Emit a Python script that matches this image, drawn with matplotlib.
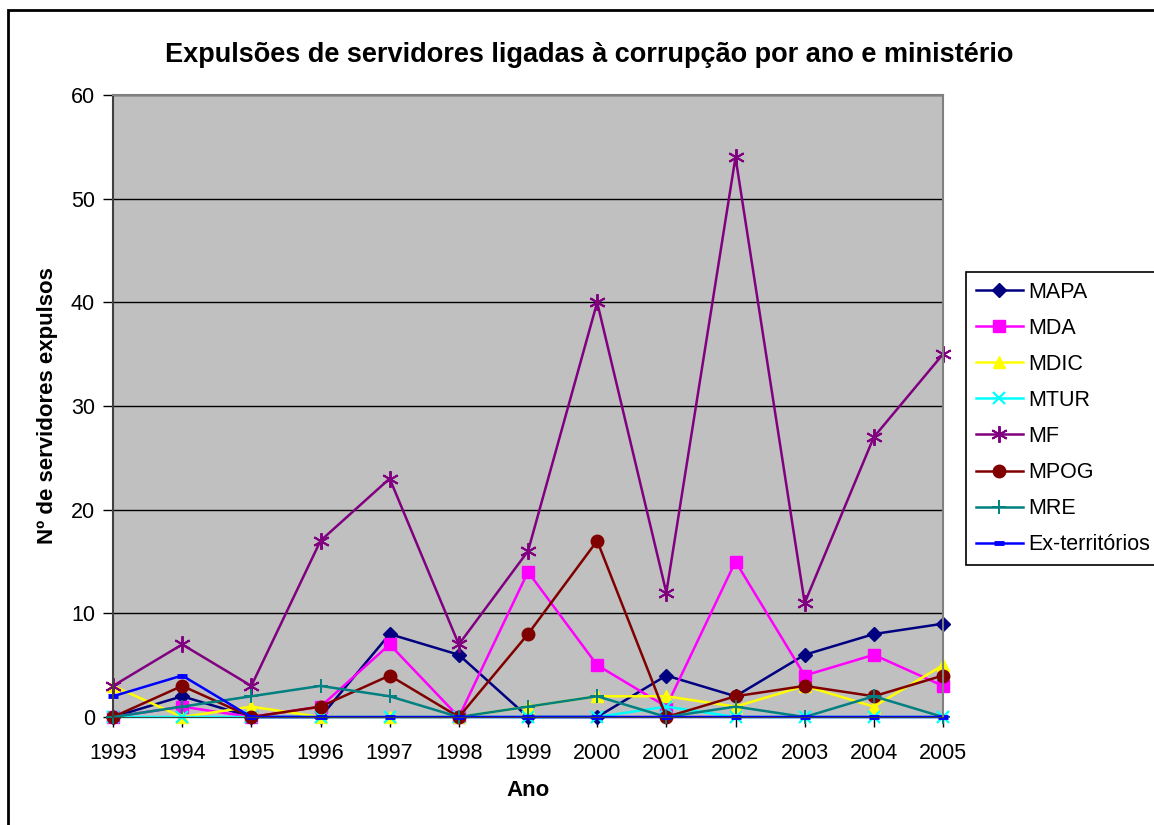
import matplotlib
matplotlib.use("Agg")
import matplotlib.pyplot as plt
from matplotlib.patches import Rectangle

plt.rcParams['font.family'] = ['Liberation Sans', 'DejaVu Sans']

years = list(range(1993, 2006))
MAPA = [0, 2, 0, 0, 8, 6, 0, 0, 4, 2, 6, 8, 9]
MDA = [0, 1, 0, 1, 7, 0, 14, 5, 1, 15, 4, 6, 3]
MDIC = [3, 0, 1, 0, 0, 0, 1, 2, 2, 1, 3, 1, 5]
MTUR = [0, 0, 0, 0, 0, 0, 0, 0, 1, 0, 0, 0, 0]
MF = [3, 7, 3, 17, 23, 7, 16, 40, 12, 54, 11, 27, 35]
MPOG = [0, 3, 0, 1, 4, 0, 8, 17, 0, 2, 3, 2, 4]
MRE = [0, 1, 2, 3, 2, 0, 1, 2, 0, 1, 0, 2, 0]
EXT = [2, 4, 0, 0, 0, 0, 0, 0, 0, 0, 0, 0, 0]

series = [
    ("MAPA", MAPA, "#000080", "D", 7, {}),
    ("MDA", MDA, "#FF00FF", "s", 8, {}),
    ("MDIC", MDIC, "#FFFF00", "^", 9, {}),
    ("MTUR", MTUR, "#00FFFF", "x", 9, {"mew": 1.6}),
    ("MF", MF, "#800080", (6, 2, 0), 12, {"mew": 1.4}),
    ("MPOG", MPOG, "#800000", "o", 9, {}),
    ("MRE", MRE, "#008080", "+", 10, {"mew": 1.4}),
    ("Ex-territórios", EXT, "#0000FF", "_", 7, {"mew": 3.5}),
]

fig = plt.figure(figsize=(11.54, 8.25), dpi=100)
fig.patches.append(Rectangle((8/1154, -0.01), 1.2, 1 - 10/825 + 0.01,
                             transform=fig.transFigure, fill=False,
                             edgecolor='black', linewidth=2))

ax = fig.add_axes([113/1154, 1 - 717/825, (943 - 113)/1154, (717 - 95)/825])
ax.set_facecolor('#C0C0C0')

for name, vals, color, marker, ms, kw in series:
    ax.plot(years, vals, color=color, marker=marker, markersize=ms,
            markerfacecolor=color, markeredgecolor=color, linewidth=1.8,
            label=name, clip_on=False, **kw)

ax.set_xlim(1993, 2005)
ax.set_ylim(0, 60)
ax.set_yticks(range(0, 61, 10))
ax.set_xticks(years)
ax.set_xticklabels([str(y) for y in years])
ax.yaxis.grid(True, color='black', linewidth=1)
ax.set_axisbelow(True)
ax.tick_params(axis='both', labelsize=15.5, direction='out', length=7, width=1, colors='black')
ax.tick_params(axis='x', pad=12)
ax.tick_params(axis='y', pad=6)
for s in ['top', 'right']:
    ax.spines[s].set_color('#808080')
    ax.spines[s].set_linewidth(1.5)
ax.spines['left'].set_color('#404040')
ax.spines['left'].set_linewidth(1.5)
ax.spines['bottom'].set_color('#404040')

ax.set_xlabel("Ano", fontsize=16, fontweight='bold', labelpad=11)
ax.set_ylabel("Nº de servidores expulsos", fontsize=16, fontweight='bold', labelpad=9)
fig.text(589/1154, 1 - 55/825, "Expulsões de servidores ligadas à corrupção por ano e ministério",
         fontsize=19.5, fontweight='bold', ha='center', va='center')

leg = ax.legend(loc='upper left', bbox_to_anchor=(966/1154, 1 - 272/825),
                bbox_transform=fig.transFigure, fontsize=15.5, frameon=True,
                fancybox=False, edgecolor='black', framealpha=1,
                handlelength=2.2, handletextpad=0.25, labelspacing=0.7,
                borderpad=0.45, borderaxespad=0)
leg.get_frame().set_linewidth(1.2)

fig.savefig("out.png", dpi=100)
